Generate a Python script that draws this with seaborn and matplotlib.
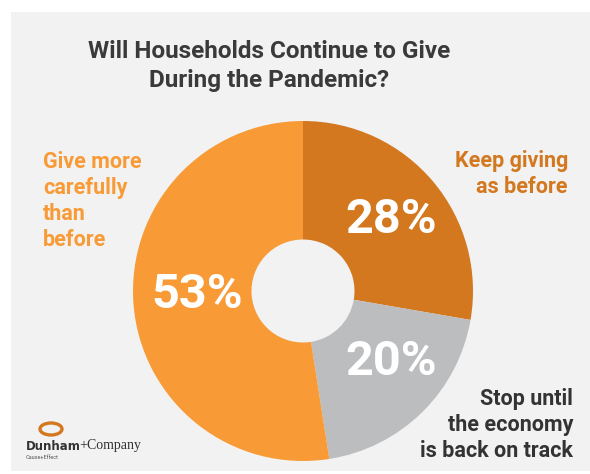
import matplotlib
matplotlib.use("Agg")
import matplotlib.pyplot as plt
from matplotlib.patches import Rectangle, Ellipse
import seaborn as sns

# Survey answers, clockwise from the top
categories = ["Keep giving as before", "Stop until the economy is back on track",
              "Give more carefully than before"]
shares = [28, 20, 53]
pct_labels = ["28%", "20%", "53%"]
colors = ["#D3781F", "#BCBDBF", "#F89B37"]

title_lines = "Will Households Continue to Give\nDuring the Pandemic?"

sns.set_theme(style="white")
plt.rcParams["font.family"] = ["Roboto", "DejaVu Sans"]

W, H = 590, 474
fig = plt.figure(figsize=(W / 100, H / 100), dpi=100, facecolor="white")


def fx(px):
    return px / W


def fy(py):
    return 1 - py / H


# light panel behind the graphic
fig.patches.append(Rectangle((fx(11), fy(471)), fx(590 - 11), (471 - 12) / H,
                             transform=fig.transFigure, facecolor="#F2F2F2",
                             edgecolor="none", zorder=-10))

# donut: centre (303, 291) px, outer radius 170 px
cx, cy, r = 303, 291, 170
ax = fig.add_axes([fx(cx - r), fy(cy + r), 2 * r / W, 2 * r / H])
ax.set_zorder(1)
ax.patch.set_alpha(0)
wedges, _ = ax.pie(shares, colors=colors, startangle=90, counterclock=False,
                   radius=1.0, wedgeprops=dict(width=1 - 51.5 / 170, edgecolor="none"))
ax.set_xlim(-1, 1)
ax.set_ylim(-1, 1)
ax.set_aspect("equal")
ax.axis("off")

# percentage labels inside the ring
pct_pos = [(391, 220), (391, 362), (197, 295)]
for lab, (px, py) in zip(pct_labels, pct_pos):
    fig.text(fx(px), fy(py), lab, color="white", fontsize=35, fontweight="bold",
             ha="center", va="center", zorder=5)

fig.text(fx(269), fy(66), title_lines, color="#3A3A3A", fontsize=17.5,
         fontweight="bold", ha="center", va="center", linespacing=1.3)

fig.text(fx(43), fy(201), "Give more\ncarefully\nthan\nbefore", color="#F89B37",
         fontsize=15.5, fontweight="bold", ha="left", va="center", linespacing=1.24)
fig.text(fx(568), fy(174), "Keep giving\nas before", color="#D3781F",
         fontsize=15.5, fontweight="bold", ha="right", va="center", linespacing=1.24)
fig.text(fx(573), fy(425), "Stop until\nthe economy\nis back on track",
         color="#333333", fontsize=15.5, fontweight="bold", ha="right", va="center",
         linespacing=1.24)

# company mark, bottom left
fig.patches.append(Ellipse((fx(51), fy(429)), 22 / W, 12 / H, transform=fig.transFigure,
                           facecolor="none", edgecolor="#D3781F", linewidth=2.4, zorder=3))
t1 = fig.text(fx(26), fy(446), "Dunham", color="#333333", fontsize=8.5, fontweight="bold",
              ha="left", va="center", family=["DejaVu Sans"])
renderer = fig.canvas.get_renderer()
bb = t1.get_window_extent(renderer)
fig.text((bb.x1 - 2) / W, fy(446), "+Company", color="#333333", fontsize=10,
         ha="left", va="center", family=["Liberation Serif"])
fig.text(fx(26), fy(457), "Cause+Effect", color="#555555", fontsize=4,
         ha="left", va="center")

fig.savefig("out.png", dpi=100, facecolor="white")
